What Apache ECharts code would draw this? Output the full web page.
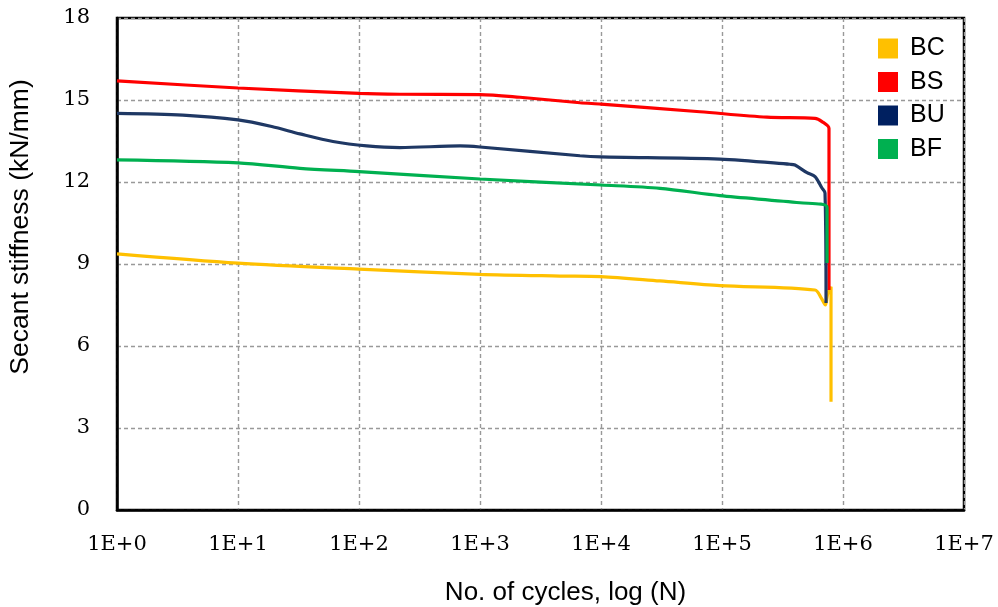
<!DOCTYPE html>
<html>
<head>
<meta charset="utf-8">
<script src="https://cdn.jsdelivr.net/npm/echarts@6/dist/echarts.min.js"></script>
<style>
  html, body { margin: 0; padding: 0; background: #fff; }
  #chart { width: 998px; height: 607px; }
</style>
</head>
<body>
<div id="chart"></div>
<script>
// Secant stiffness vs. number of load cycles (log scale) for four specimens
var seriesNames = ['BC', 'BS', 'BU', 'BF'];

// cycles (N) and secant stiffness (kN/mm) per specimen
var bcCycles = [1, 10, 100, 1000, 4580, 10000, 30700, 96200, 587000, 660000, 715000, 750000, 796000, 796000];
var bcStiff  = [9.37, 9.03, 8.81, 8.62, 8.56, 8.54, 8.38, 8.21, 8.05, 7.76, 7.50, 7.94, 8.17, 3.96];

var bsCycles = [1, 10, 100, 218, 1000, 2140, 6700, 10000, 65800, 235000, 587000, 670000, 766000, 766000];
var bsStiff  = [15.70, 15.44, 15.24, 15.21, 15.20, 15.10, 14.90, 14.85, 14.57, 14.37, 14.33, 14.21, 13.96, 8.05];

var buCycles = [1, 3.5, 10, 19, 32.5, 61, 116, 218, 684, 1000, 6700, 10000, 96200, 365000, 401000, 504000, 587000, 670000, 710000, 724000];
var buStiff  = [14.51, 14.45, 14.27, 14.03, 13.76, 13.48, 13.32, 13.26, 13.32, 13.28, 12.96, 12.92, 12.84, 12.65, 12.62, 12.34, 12.20, 11.78, 11.60, 7.57];

var bfCycles = [1, 10, 32.5, 100, 1000, 10000, 30700, 96200, 441000, 738000, 738000];
var bfStiff  = [12.81, 12.70, 12.50, 12.38, 12.11, 11.89, 11.77, 11.50, 11.24, 11.08, 9.04];

var lineColors = ['#FFC000', '#FF0000', '#1F3864', '#00B050'];
var keyColors  = ['#FFC000', '#FF0000', '#002060', '#00B050'];

var yTicks = { min: 0, max: 18, step: 3 };
var xDecades = { min: 1, max: 1e7 };

function pairs(xs, ys) {
  return xs.map(function (x, i) { return [x, ys[i]]; });
}
var allData = [pairs(bcCycles, bcStiff), pairs(bsCycles, bsStiff), pairs(buCycles, buStiff), pairs(bfCycles, bfStiff)];

var chart = echarts.init(document.getElementById('chart'), null, { renderer: 'canvas' });

var gridLine = { show: true, lineStyle: { color: '#999999', width: 1.4, type: [4, 3] } };
var sansFont = 'Liberation Sans, Arial, sans-serif';
var serifFont = 'DejaVu Serif, serif';

chart.setOption({
  animation: false,
  backgroundColor: '#ffffff',
  grid: {
    left: 117, right: 34, top: 18, bottom: 97,
    outerBoundsMode: 'none',
    containLabel: false,
    show: true, borderColor: '#000', borderWidth: 2.5, backgroundColor: 'transparent'
  },
  legend: {
    data: seriesNames,
    orient: 'vertical',
    left: 878,
    top: 36,
    padding: 0,
    icon: 'rect',
    itemWidth: 20,
    itemHeight: 20,
    itemGap: 8.5,
    textStyle: { fontFamily: sansFont, fontSize: 25, color: '#000', padding: [0, 0, 0, 7] }
  },
  xAxis: {
    type: 'log',
    logBase: 10,
    min: xDecades.min,
    max: xDecades.max,
    name: 'No. of cycles, log (N)',
    nameLocation: 'middle',
    nameGap: 70,
    nameTextStyle: { fontFamily: sansFont, fontSize: 26, color: '#000', padding: [0, 0, 0, 50] },
    axisLine: { show: true, lineStyle: { color: '#000', width: 2.5 } },
    axisTick: { show: false },
    minorTick: { show: false },
    splitLine: gridLine,
    axisLabel: {
      fontFamily: serifFont,
      fontSize: 21,
      color: '#000',
      margin: 24,
      formatter: function (v) { return '1E+' + Math.round(Math.log10(v)); }
    }
  },
  yAxis: {
    type: 'value',
    min: yTicks.min,
    max: yTicks.max,
    interval: yTicks.step,
    axisLine: { show: true, lineStyle: { color: '#000', width: 2.5 } },
    axisTick: { show: false },
    splitLine: gridLine,
    axisLabel: { fontFamily: serifFont, fontSize: 21, color: '#000', margin: 27 }
  },
  graphic: [{
    type: 'text',
    x: 21,
    y: 227,
    rotation: Math.PI / 2,
    style: {
      text: 'Secant stiffness (kN/mm)',
      fontFamily: sansFont,
      fontSize: 26.5,
      fill: '#000',
      align: 'center',
      verticalAlign: 'middle'
    }
  }],
  series: seriesNames.map(function (name, i) {
    return {
      name: name,
      type: 'line',
      data: allData[i],
      smooth: 0.3,
      showSymbol: false,
      symbol: 'none',
      lineStyle: { color: lineColors[i], width: 3.2 },
      itemStyle: { color: keyColors[i] }
    };
  })
});
</script>
</body>
</html>
